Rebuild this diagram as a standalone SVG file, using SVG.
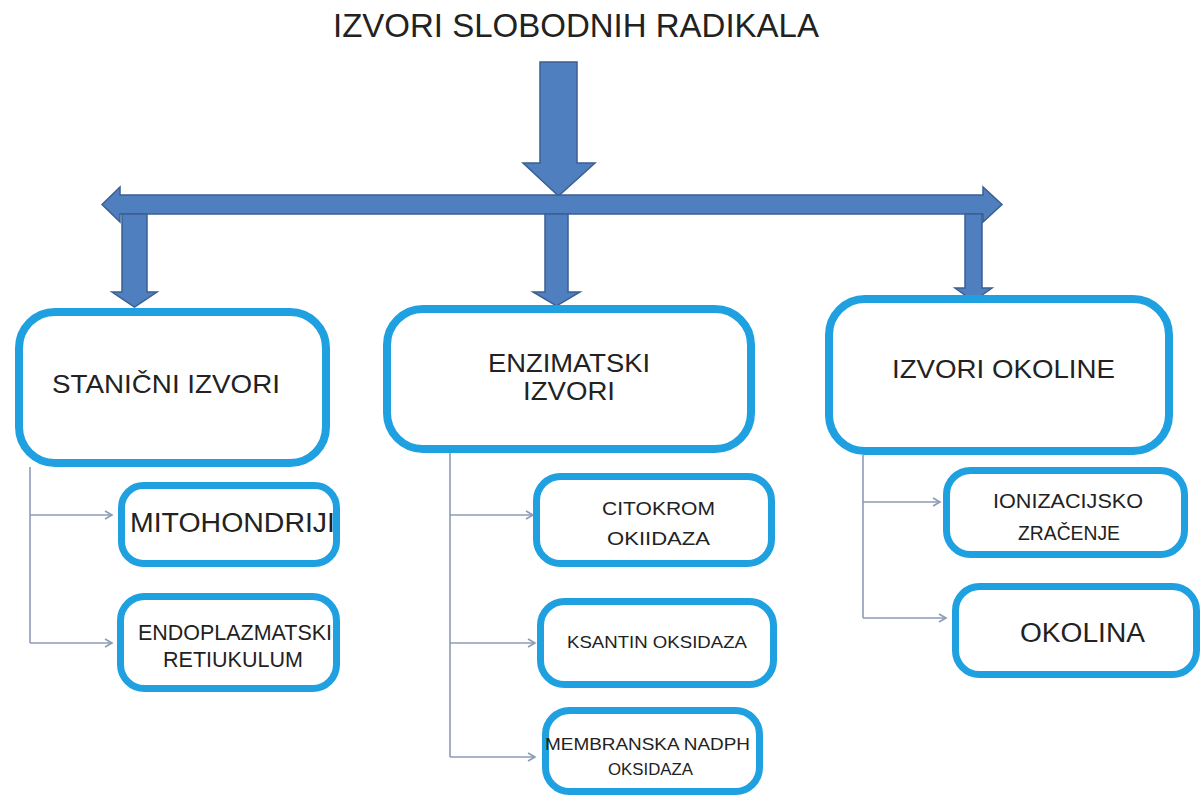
<svg xmlns="http://www.w3.org/2000/svg" width="1201" height="800" viewBox="0 0 1201 800">
<style>
.bx{fill:#ffffff;stroke:#1FA0E0;stroke-width:8}
.sb{fill:#ffffff;stroke:#1FA0E0;stroke-width:7}
.ar{fill:#4F7FBF;stroke:#3B5F92;stroke-width:1.5;stroke-linejoin:miter}
.cn{fill:none;stroke:#8C9BB5;stroke-width:1.6}
text{font-family:"Liberation Sans",Arial,sans-serif;fill:#222222}
</style>
<defs>
<marker id="chev" markerWidth="10" markerHeight="10" refX="8" refY="5" orient="auto" markerUnits="userSpaceOnUse">
<path d="M1,1 L8,5 L1,9" fill="none" stroke="#8C9BB5" stroke-width="1.6"/>
</marker>
</defs>
<rect width="1201" height="800" fill="#ffffff"/>

<g id="title">
<text x="333" y="37" font-size="33">IZVORI SLOBODNIH RADIKALA</text>
</g>

<g id="big-arrows">
<path class="ar" d="M540,62 L577,62 L577,163 L595,163 L558.5,196 L523,163 L540,163 Z"/>
<path class="ar" d="M102,204.5 L120,187 L120,195 L983,195 L983,187 L1002,204.5 L983,222 L983,214 L120,214 L120,222 Z"/>
<path class="ar" d="M122,214 L147,214 L147,292 L157,292 L134.5,307 L112,292 L122,292 Z"/>
<path class="ar" d="M545,214 L568,214 L568,292 L580,292 L556.5,306 L533,292 L545,292 Z"/>
<path class="ar" d="M965,214 L982,214 L982,288 L992,288 L973.5,301 L955,288 L965,288 Z"/>
</g>

<g id="connectors">
<path class="cn" d="M30,467 L30,643"/>
<path class="cn" d="M30,515 L112,515" marker-end="url(#chev)"/>
<path class="cn" d="M30,643 L112,643" marker-end="url(#chev)"/>
<path class="cn" d="M450,453 L450,757"/>
<path class="cn" d="M450,515 L533,515" marker-end="url(#chev)"/>
<path class="cn" d="M450,643 L535,643" marker-end="url(#chev)"/>
<path class="cn" d="M450,757 L535,757" marker-end="url(#chev)"/>
<path class="cn" d="M863,455 L863,618"/>
<path class="cn" d="M863,502 L940,502" marker-end="url(#chev)"/>
<path class="cn" d="M863,618 L946,618" marker-end="url(#chev)"/>
</g>

<g id="stanicni">
<rect class="bx" x="19" y="312" width="307" height="151" rx="36"/>
<text x="52" y="393" font-size="25" textLength="228" lengthAdjust="spacingAndGlyphs">STANIČNI IZVORI</text>
</g>
<g id="enzimatski">
<rect class="bx" x="387" y="309" width="364" height="140" rx="36"/>
<text x="488" y="372" font-size="25" textLength="162" lengthAdjust="spacingAndGlyphs">ENZIMATSKI</text>
<text x="523" y="400" font-size="25" textLength="92" lengthAdjust="spacingAndGlyphs">IZVORI</text>
</g>
<g id="okoline">
<rect class="bx" x="829" y="299" width="340" height="152" rx="36"/>
<text x="892" y="378" font-size="25" textLength="223" lengthAdjust="spacingAndGlyphs">IZVORI OKOLINE</text>
</g>

<g id="mitohondriji">
<rect class="sb" x="121.5" y="485.5" width="215" height="78" rx="22"/>
<text x="130" y="532" font-size="27" textLength="205" lengthAdjust="spacingAndGlyphs">MITOHONDRIJI</text>
</g>
<g id="endoplazmatski">
<rect class="sb" x="120.5" y="596.5" width="216" height="92" rx="24"/>
<text x="138" y="640" font-size="22" textLength="194" lengthAdjust="spacingAndGlyphs">ENDOPLAZMATSKI</text>
<text x="163" y="667" font-size="22" textLength="140" lengthAdjust="spacingAndGlyphs">RETIUKULUM</text>
</g>
<g id="citokrom">
<rect class="sb" x="536.5" y="476.5" width="235" height="87" rx="24"/>
<text x="602" y="515" font-size="18" textLength="113" lengthAdjust="spacingAndGlyphs">CITOKROM</text>
<text x="607" y="545" font-size="18" textLength="103" lengthAdjust="spacingAndGlyphs">OKIIDAZA</text>
</g>
<g id="ksantin">
<rect class="sb" x="540.5" y="601.5" width="233" height="83" rx="24"/>
<text x="567" y="648" font-size="17" textLength="180" lengthAdjust="spacingAndGlyphs">KSANTIN OKSIDAZA</text>
</g>
<g id="membranska">
<rect class="sb" x="545.5" y="710.5" width="214" height="81" rx="24"/>
<text x="545" y="750" font-size="17" textLength="205" lengthAdjust="spacingAndGlyphs">MEMBRANSKA NADPH</text>
<text x="608" y="775" font-size="17" textLength="85" lengthAdjust="spacingAndGlyphs">OKSIDAZA</text>
</g>
<g id="ionizacijsko">
<rect class="sb" x="946.5" y="470.5" width="238" height="84" rx="24"/>
<text x="993" y="508" font-size="20" textLength="150" lengthAdjust="spacingAndGlyphs">IONIZACIJSKO</text>
<text x="1018" y="540" font-size="20" textLength="102" lengthAdjust="spacingAndGlyphs">ZRAČENJE</text>
</g>
<g id="okolina">
<rect class="sb" x="955.5" y="586.5" width="241" height="88" rx="24"/>
<text x="1020" y="642" font-size="27" textLength="125" lengthAdjust="spacingAndGlyphs">OKOLINA</text>
</g>
</svg>
